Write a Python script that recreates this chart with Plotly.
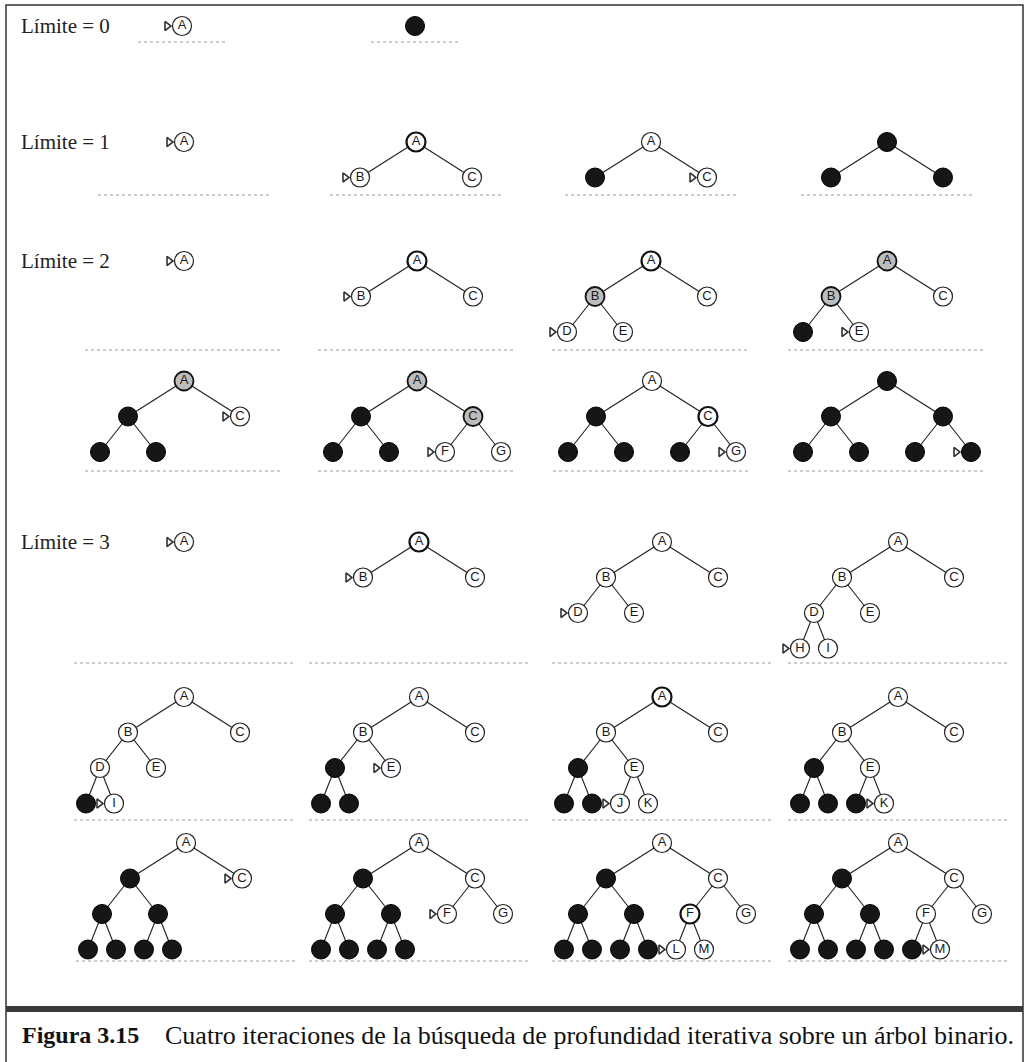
import plotly.graph_objects as go

# ------------------------------------------------------------------ data
ITERATION_LABELS = ["Límite = 0", "Límite = 1", "Límite = 2", "Límite = 3"]
TREE_NODES = list("ABCDEFGHIJKLMNO")          # binary tree in heap order
CAPTION_NUM = "Figura 3.15"
CAPTION_TEXT = "Cuatro iteraciones de la búsqueda de profundidad iterativa sobre un árbol binario."

# panel states: <node><state>[>]   state w=white, b=white bold, g=gray, k=black ; ">" = arrow
ROW_L0 = ["Aw>", "Ak"]
ROW_L1 = ["Aw>", "Ab Bw> Cw", "Aw Bk Cw>", "Ak Bk Ck"]
ROW_L2A = ["Aw>", "Ab Bw> Cw", "Ab Bg Cw Dw> Ew", "Ag Bg Cw Dk Ew>"]
ROW_L2B = ["Ag Bk Cw> Dk Ek", "Ag Bk Cg Dk Ek Fw> Gw",
           "Aw Bk Cb Dk Ek Fk Gw>", "Ak Bk Ck Dk Ek Fk Gk>"]
ROW_L3A = ["Aw>", "Ab Bw> Cw", "Aw Bw Cw Dw> Ew", "Aw Bw Cw Dw Ew Hw> Iw"]
ROW_L3B = ["Aw Bw Cw Dw Ew Hk Iw>", "Aw Bw Cw Dk Ew> Hk Ik",
           "Ab Bw Cw Dk Ew Hk Ik Jw> Kw", "Aw Bw Cw Dk Ew Hk Ik Jk Kw>"]
ROW_L3C = ["Aw Bk Cw> Dk Ek Hk Ik Jk Kk",
           "Aw Bk Cw Dk Ek Fw> Gw Hk Ik Jk Kk",
           "Aw Bk Cw Dk Ek Fb Gw Hk Ik Jk Kk Lw> Mw",
           "Aw Bk Cw Dk Ek Fw Gw Hk Ik Jk Kk Lk Mw>"]

# ------------------------------------------------------------------ layout (positions / styles)
W, H = 1030, 1062
ROWS = [ROW_L0, ROW_L1, ROW_L2A, ROW_L2B, ROW_L3A, ROW_L3B, ROW_L3C]
ROW_ROOT_Y = [26, 142, 261, 381, 542, 697, 843]
ROW_BASE_Y = [42, 195, 350, 471, 663, 820, 961]
ROW_CX = [[182, 415], [184, 416, 651, 887], [184, 417, 651, 887],
          [184, 417, 652, 887], [184, 419, 662, 898], [184, 419, 662, 898],
          [186, 419, 662, 898]]
ROW_HALF = [44, 86, 99, 99, 110, 110, 110]
LABEL_ROWS = {0: 0, 1: 1, 2: 2, 4: 3}
DY = 35.5
SPREAD = 224
NODE_D = 19

def node_pos(name, cx, y0):
    idx = TREE_NODES.index(name)
    level = (idx + 1).bit_length() - 1
    i = idx - (2 ** level - 1)
    x = cx + (i - (2 ** level - 1) / 2) * (SPREAD / 2 ** level)
    return x, y0 + level * DY

def parse(panel):
    return [(tok[0], tok[1], tok.endswith(">")) for tok in panel.split()]

edge_x, edge_y = [], []
groups = {s: ([], [], []) for s in "wbgk"}
arrow_x, arrow_y = [], []
shapes = []

for r, row in enumerate(ROWS):
    for p, panel in enumerate(row):
        cx = ROW_CX[r][p]
        y0 = ROW_ROOT_Y[r]
        nodes = parse(panel)
        present = {n for n, _, _ in nodes}
        for n, st, arr in nodes:
            x, y = node_pos(n, cx, y0)
            idx = TREE_NODES.index(n)
            if idx > 0:
                par = TREE_NODES[(idx - 1) // 2]
                if par in present:
                    px, py = node_pos(par, cx, y0)
                    edge_x += [px, x, None]
                    edge_y += [py, y, None]
            gx, gy, gt = groups[st]
            gx.append(x); gy.append(y); gt.append(n if st != "k" else "")
            if arr:
                arrow_x.append(x - 15); arrow_y.append(y)
        shapes.append(dict(type="line", xref="x", yref="y",
                           x0=cx - ROW_HALF[r], x1=cx + ROW_HALF[r],
                           y0=ROW_BASE_Y[r], y1=ROW_BASE_Y[r],
                           line=dict(color="#9a9a9a", width=1, dash="dot")))

fig = go.Figure()
fig.add_trace(go.Scatter(x=edge_x, y=edge_y, mode="lines",
                         line=dict(color="#1e1e1e", width=1.1), hoverinfo="skip"))

styles = {
    "w": dict(color="white", line=dict(color="#222", width=1.2)),
    "b": dict(color="white", line=dict(color="#111", width=2.2)),
    "g": dict(color="#bdbdbd", line=dict(color="#111", width=1.8)),
    "k": dict(color="#161616", line=dict(color="#000", width=1)),
}
for st in "wbgk":
    gx, gy, gt = groups[st]
    fig.add_trace(go.Scatter(
        x=gx, y=gy, text=gt, mode="markers+text",
        marker=dict(size=NODE_D, symbol="circle", **styles[st]),
        textposition="middle center",
        textfont=dict(family="Liberation Sans, Arial, sans-serif", size=13, color="#1a1a1a"),
        hoverinfo="skip"))

fig.add_trace(go.Scatter(x=arrow_x, y=arrow_y, mode="markers",
                         marker=dict(symbol="triangle-right-open", size=8, color="#333",
                                     line=dict(width=1.6)),
                         hoverinfo="skip"))

serif = "Liberation Serif, Times New Roman, serif"
annotations = []
for r, li in LABEL_ROWS.items():
    annotations.append(dict(x=19, y=ROW_ROOT_Y[r], xref="x", yref="y",
                            text=ITERATION_LABELS[li], showarrow=False,
                            xanchor="left", yanchor="middle",
                            font=dict(family=serif, size=21, color="#222")))
annotations.append(dict(x=20, y=1035, xref="x", yref="y", text="<b>" + CAPTION_NUM + "</b>",
                        showarrow=False, xanchor="left", yanchor="middle",
                        font=dict(family=serif, size=24, color="#111")))
annotations.append(dict(x=163, y=1035, xref="x", yref="y", text=CAPTION_TEXT,
                        showarrow=False, xanchor="left", yanchor="middle",
                        font=dict(family=serif, size=26, color="#111")))

shapes.append(dict(type="rect", xref="x", yref="y", x0=6, x1=1023, y0=5, y1=1066,
                   line=dict(color="#333", width=1.5), fillcolor="rgba(0,0,0,0)"))
shapes.append(dict(type="line", xref="x", yref="y", x0=6, x1=1023, y0=1009, y1=1009,
                   line=dict(color="#3a3a3a", width=6)))

fig.update_layout(
    width=W, height=H, margin=dict(l=0, r=0, t=0, b=0),
    paper_bgcolor="white", plot_bgcolor="white", showlegend=False,
    xaxis=dict(range=[0, W], visible=False, fixedrange=True),
    yaxis=dict(range=[H, 0], visible=False, fixedrange=True),
    shapes=shapes, annotations=annotations,
)
fig.write_html("out.html", config={"displayModeBar": False},
               post_script="document.body.style.margin='0px';document.body.style.overflow='hidden';")
